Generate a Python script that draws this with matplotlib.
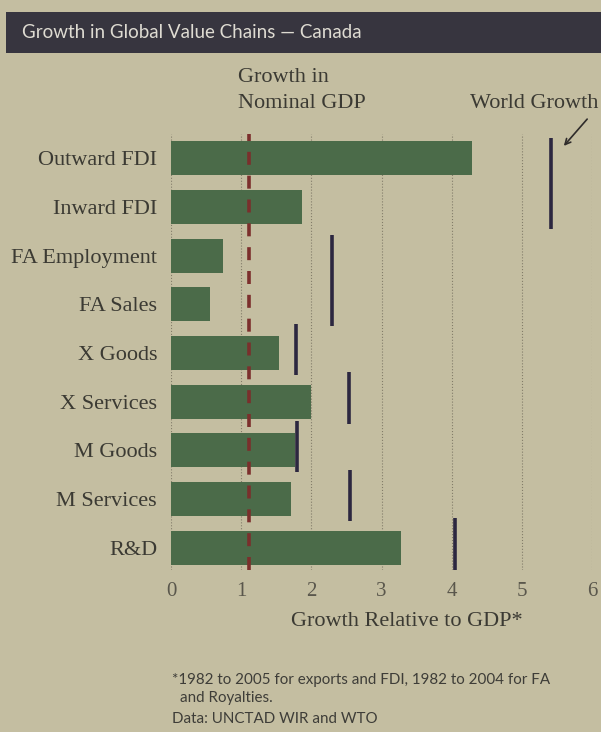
import numpy as np
import matplotlib.pyplot as plt
from matplotlib.patches import Rectangle

# data
categories = ['Outward FDI', 'Inward FDI', 'FA Employment', 'FA Sales',
              'X Goods', 'X Services', 'M Goods', 'M Services', 'R&D']
canada = [4.29, 1.86, 0.74, 0.56, 1.54, 2.00, 1.77, 1.71, 3.28]

# world growth markers, each spanning one or two categories
world_values = [5.41, 2.29, 1.78, 2.54, 1.80, 2.55, 4.05]
world_first = ['Outward FDI', 'FA Employment', 'X Goods', 'X Services',
               'M Goods', 'M Services', 'R&D']
world_last = ['Inward FDI', 'FA Sales', 'X Goods', 'X Services',
              'M Goods', 'M Services', 'R&D']

gdp_growth = 1.11
xticks = [0, 1, 2, 3, 4, 5, 6]

bg = '#c4bea1'
green = '#4b6b49'
navy = '#2c2740'
darkred = '#7b2f2c'
txt = '#3b3a33'
serif = 'Liberation Serif'

fig = plt.figure(figsize=(6.01, 7.32), dpi=100, facecolor=bg)

# title band
fig.patches.append(Rectangle((6/601, 1-53/732), 1, 41/732, transform=fig.transFigure,
                             facecolor='#37353f', edgecolor='none'))
fig.text(22/601, 1-32/732, 'Growth in Global Value Chains \u2014 Canada', color='#dedbd2',
         fontsize=13.5, family='Lato', va='center', ha='left')

ax = fig.add_axes([171/601, 1-570/732, 421/601, 436/732])
ax.set_facecolor(bg)

y = np.arange(len(categories))
ax.barh(y, canada, height=0.7, color=green, zorder=2)

for v in xticks:
    ax.axvline(v, color='#837d6a', lw=0.8, ls=':', zorder=1)

ax.axvline(gdp_growth, color=darkred, lw=2.6, dashes=(3.6, 3.0), zorder=3)

for v, a, b in zip(world_values, world_first, world_last):
    i0 = categories.index(a)
    i1 = categories.index(b)
    top = i0 - (0.42 if i1 > i0 else 0.6)
    ax.vlines(v, top, i1 + 0.45, color=navy, lw=2.6, zorder=4)

ax.set_xlim(0, 6)
ax.set_ylim(8.46, -0.5)
ax.set_xticks(xticks)
ax.set_yticks(y)
ax.set_yticklabels(categories)
ax.tick_params(length=0)
ax.tick_params(axis='x', pad=9, labelcolor='#5a574c', labelsize=15)
ax.tick_params(axis='y', labelcolor=txt, labelsize=16, pad=10)
for lab in ax.get_xticklabels() + ax.get_yticklabels():
    lab.set_family(serif)
for s in ax.spines.values():
    s.set_visible(False)

fig.text(407/601, 1-621/732, 'Growth Relative to GDP*', family=serif, fontsize=16,
         color=txt, va='center', ha='center')

fig.text(238/601, 1-77/732, 'Growth in', family=serif, fontsize=16, color=txt, va='center')
fig.text(238/601, 1-103/732, 'Nominal GDP', family=serif, fontsize=16, color=txt, va='center')
fig.text(598/601, 1-103/732, 'World Growth', family=serif, fontsize=16, color=txt,
         va='center', ha='right')
ax.annotate('', xy=(562/601, 1-148/732), xytext=(589/601, 1-117/732),
            xycoords='figure fraction', textcoords='figure fraction',
            arrowprops=dict(arrowstyle='->', color='#2e2b2a', lw=1.2))

note = '#3e3d38'
fig.text(172/601, 1-680/732, '*1982 to 2005 for exports and FDI, 1982 to 2004 for FA',
         family='Lato', fontsize=10.9, color=note, va='center')
fig.text(180/601, 1-698/732, 'and Royalties.', family='Lato', fontsize=10.9, color=note, va='center')
fig.text(172/601, 1-719/732, 'Data: UNCTAD WIR and WTO', family='Lato', fontsize=10.9,
         color=note, va='center')

fig.savefig('out.png', dpi=100, facecolor=bg)
